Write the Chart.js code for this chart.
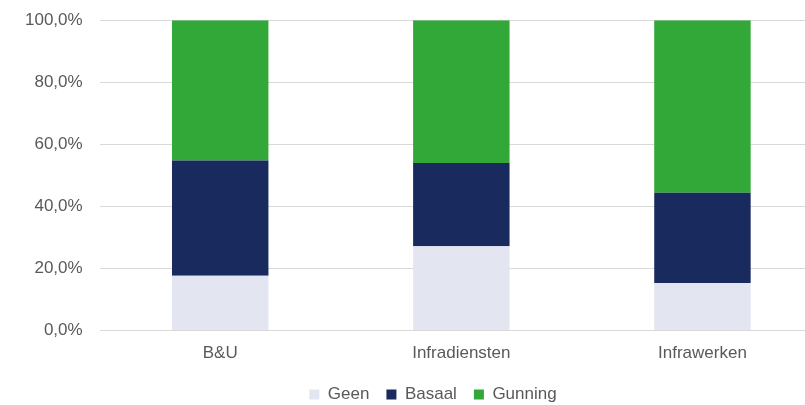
<!DOCTYPE html>
<html>
<head>
<meta charset="utf-8">
<script src="https://cdn.jsdelivr.net/npm/chart.js@4"></script>
<style>
  html, body { margin: 0; padding: 0; background: #fff; overflow: hidden; }
  #wrap { width: 830px; height: 413px; position: relative; }
</style>
</head>
<body>
<div id="wrap"><canvas id="chart"></canvas></div>
<script>
/* Data */
const categories = ['B&U', 'Infradiensten', 'Infrawerken'];
const geen = [17.7, 27.2, 15.3];
const basaal = [37.1, 26.8, 29.1];
const gunning = [45.2, 46.0, 55.6];

const grey = '#595959';

/* shift the legend a bit to the right, like the original */
const legendShift = {
    id: 'legendShift',
    afterLayout(chart) {
        if (chart.legend) {
            chart.legend.left += 14;
            chart.legend.right += 14;
        }
    }
};

new Chart(document.getElementById('chart'), {
    type: 'bar',
    data: {
        labels: categories,
        datasets: [
            { label: 'Geen', data: geen, backgroundColor: '#e3e6f0' },
            { label: 'Basaal', data: basaal, backgroundColor: '#192a5f' },
            { label: 'Gunning', data: gunning, backgroundColor: '#32a838' }
        ]
    },
    options: {
        responsive: true,
        maintainAspectRatio: false,
        animation: false,
        layout: { padding: { left: 15, right: 7, top: 0, bottom: 0 } },
        datasets: { bar: { barPercentage: 1, categoryPercentage: 0.4 } },
        scales: {
            x: {
                stacked: true,
                grid: { display: false },
                border: { display: false },
                ticks: { color: grey, font: { family: 'Liberation Sans', size: 17 }, padding: 5 }
            },
            y: {
                stacked: true,
                min: 0,
                max: 100,
                ticks: {
                    stepSize: 20,
                    color: grey,
                    padding: 10,
                    font: { family: 'Liberation Sans', size: 17 },
                    callback: (v) => v.toFixed(1).replace('.', ',') + '%'
                },
                grid: { color: '#d9d9d9', lineWidth: 1, drawTicks: true, tickLength: 7, tickColor: 'rgba(0,0,0,0)' },
                border: { display: false }
            }
        },
        plugins: {
            legend: {
                position: 'bottom',
                labels: {
                    color: grey,
                    boxWidth: 10,
                    boxHeight: 10,
                    padding: 17,
                    font: { family: 'Liberation Sans', size: 17 }
                }
            },
            tooltip: { enabled: false }
        }
    },
    plugins: [legendShift]
});
</script>
</body>
</html>
